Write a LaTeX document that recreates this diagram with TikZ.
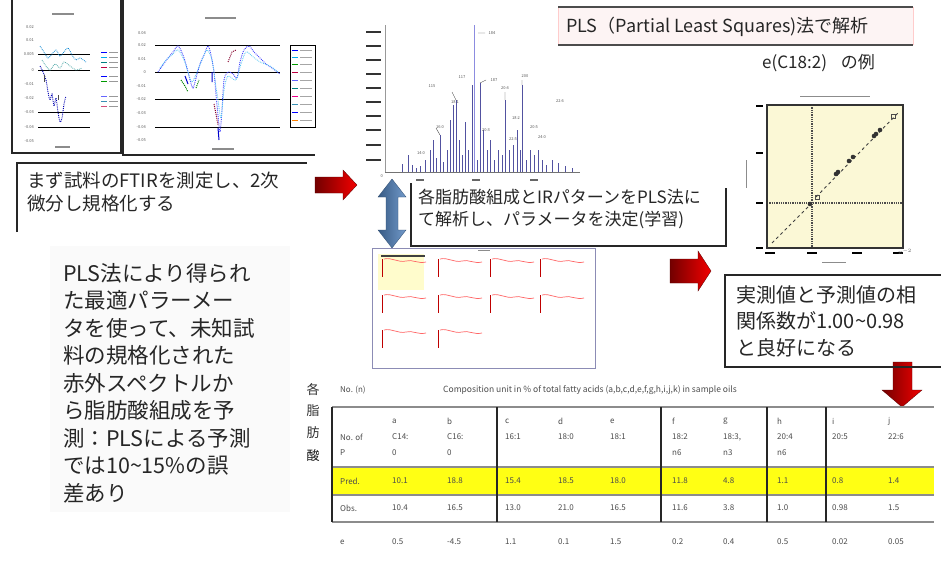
\documentclass[tikz,border=0pt]{standalone}
\usepackage{fontspec}
\setmainfont{Noto Sans CJK JP}
\usetikzlibrary{arrows.meta}
\definecolor{peak}{HTML}{34348F}
\definecolor{lav}{HTML}{8C8CE0}
\definecolor{arrowblue}{HTML}{4F81BD}
\definecolor{yel}{HTML}{FFFF14}
\definecolor{plotbg}{HTML}{FBF8D6}
\definecolor{pinkbg}{HTML}{FDF4F4}
\begin{document}
\begin{tikzpicture}[x=1pt,y=-1pt,
  txt/.style={inner sep=0pt, anchor=west, align=left, text=black!85},
  frameline/.style={line width=1.4pt, black!85},
  boxline/.style={line width=1.2pt, black!85},
  tiny/.style={font=\fontsize{4}{4}\selectfont, text=black!65, inner sep=0pt},
  blur/.style={line width=1.3pt, black!45},
  tabtxt/.style={font=\fontsize{8}{10}\selectfont, text=black!70, inner sep=0pt, anchor=west, align=left},
  redarrow/.style={left color=red!45!black, right color=red!95!black, draw=red!35!black, line width=0.3pt},
  bluearrow/.style={left color=arrowblue!70!black, right color=arrowblue!80, draw=arrowblue!60!black, line width=0.3pt},
]
\useasboundingbox (0,0) rectangle (941,562);
\fill[white] (0,0) rectangle (941,562);

% ---------------- top-left charts ----------------
\draw[frameline] (12,0) -- (12,153) -- (121,153) -- (121,0);
\draw[frameline] (123,0) -- (123,155) -- (315,155);
% left panel
\draw[blur] (52,14) -- (74,14);
\draw[blur] (55,147) -- (70,147);
\foreach \y/\t in {27/0.02,40/0.01,54/0.005,70/0,84/-0.01,98/-0.02,112/-0.03,127/-0.04,141/-0.05}
  \node[tiny, anchor=east] at (34,\y) {\t};
\foreach \y in {54,70,112,127} \draw[line width=1pt] (38,\y) -- (90,\y);
\draw[cyan!70!blue, densely dotted, line width=0.8pt] plot[smooth] coordinates {(40,46) (44,52) (48,58) (52,54) (56,50) (60,56) (64,52) (68,48) (72,55) (76,60) (80,58) (86,62)};
\draw[blue!70!black, densely dotted, line width=0.9pt] plot[smooth] coordinates {(40,66) (43,72) (46,80) (48,92) (50,100) (52,94) (54,106) (56,98) (58,112) (60,122) (62,118) (64,104) (66,96)};
\draw[teal!70, densely dotted, line width=0.8pt] plot[smooth] coordinates {(42,60) (46,66) (50,70) (55,64) (60,68) (64,62) (70,66) (76,70) (82,68)};
\draw[black!70, line width=0.8pt] (44,75) -- (44,82) (58,95) -- (58,100);
\foreach \y/\c in {52/blue,57/cyan,62/teal,67/purple,76/blue,81/green!60!black,96/blue!60,101/cyan!70!black,106/purple!70} {
  \draw[\c, line width=0.7pt] (101,\y) -- (107,\y);
  \draw[black!40, line width=1pt] (109,\y) -- (118,\y);
}
% right panel
\draw[blur] (205,18) -- (236,18);
\draw[blur] (212,149) -- (234,149);
\foreach \y/\t in {33/0.04,45/0.02,59/0.01,72/0,86/-0.01,99/-0.02,113/-0.03,127/-0.04,140/-0.05}
  \node[tiny, anchor=east] at (146,\y) {\t};
\foreach \y in {45,72,99,127} \draw[line width=1pt] (155,\y) -- (280,\y);
\draw[line width=1pt] (290,45) rectangle (315,127);
\foreach \y/\c in {50/blue,57/cyan,64/green!60!black,72/purple,80/blue!60,88/teal,96/magenta,104/cyan!70!black,112/blue,120/orange} {
  \draw[\c, line width=0.6pt] (292,\y) -- (298,\y);
  \draw[black!35, line width=0.9pt] (300,\y) -- (312,\y);
}
\draw[blue!75, densely dotted, line width=0.9pt] plot[smooth] coordinates {(158,72) (163,65) (168,58) (173,52) (178,46) (183,55) (187,68) (190,80) (193,88) (196,78) (200,64) (204,55) (208,46) (211,55) (214,72) (216,95) (218,115) (220,132) (222,110) (224,80) (228,72) (233,74) (237,78) (240,62) (244,50) (249,46) (254,52) (260,58) (266,64) (272,68) (280,74)};
\draw[cyan!70, densely dotted, line width=0.8pt] plot[smooth] coordinates {(160,68) (166,60) (172,55) (178,50) (184,60) (188,72) (192,82) (197,72) (202,60) (207,50) (212,60) (215,80) (218,100) (221,118) (224,90) (228,76) (236,80) (241,64) (246,52) (252,56) (260,62) (270,66) (278,72)};
\draw[green!50!black, densely dotted, line width=1pt] (181,80) -- (185,86) -- (188,92) (196,88) -- (199,80);
\draw[purple!70!black, densely dotted, line width=1pt] (214,104) -- (216,114) -- (218,125) (228,62) -- (232,52) -- (236,50);
\draw[blue!80!black, line width=1pt] (218,128) -- (219,140) (212,72) -- (212,82) (185,76) -- (188,84);

% ---------------- spectrum (middle top) ----------------
\foreach \y in {32,46,60,74,88,102,116,130,145,160} \draw[line width=1.3pt, black!80] (366,\y) -- (381,\y);
\draw[line width=0.6pt, black!40] (385,25) -- (385,172);
\draw[line width=0.8pt, black!55] (385,172) -- (580,172);
\node[tiny, anchor=east] at (383,176) {0};
\foreach \x in {420,476,534} \draw[line width=1.2pt, black!60] (\x-4,180) -- (\x+4,180);
\draw[lav, line width=1pt] (474,172) -- (474,25);
\foreach \x/\h in {402/164,408/155,412/165,416/168,420/166,425/160,430/150,433/140,436/158,440/135,443/162,447/150,450/120,453/105,456/100,459/140,462/155,465/122,468/150,472/85,477/160,480/83,483/130,487/150,490/140,494/160,498/150,502/155,505/100,509/150,513/145,517/130,520/150,522/85,526/160,530/150,534/155,538/150,542/160,546/165,552/160,558/163,565/166,572/168}
  \draw[peak!85, line width=0.7pt] (\x,172) -- (\x,\h);
\draw[black!70, line width=0.4pt] (478,33) -- (485,33) (505,100) -- (505,92) (522,85) -- (522,80) (440,135) -- (436,128) (456,100) -- (452,92) (480,83) -- (486,80);
\node[tiny] at (492,33) {184};
\node[tiny] at (432,86) {115};
\node[tiny] at (462,77) {117};
\node[tiny] at (494,80) {187};
\node[tiny] at (525,76) {200};
\node[tiny] at (505,88) {20:4};
\node[tiny] at (440,127) {16:0};
\node[tiny] at (455,102) {18:1};
\node[tiny] at (516,118) {18:2};
\node[tiny] at (534,127) {20:5};
\node[tiny] at (560,101) {22:6};
\node[tiny] at (542,137) {24:0};
\node[tiny] at (421,153) {14:0};
\node[tiny] at (486,130) {20:3};
\node[tiny] at (513,139) {22:5};

% ---------------- arrows ----------------
\shade[redarrow] (315,177) -- (343,177) -- (343,170) -- (357,185) -- (343,200) -- (343,193) -- (315,193) -- cycle;
\shade[redarrow] (670,259) -- (698,259) -- (698,251) -- (711,271) -- (698,291) -- (698,283) -- (670,283) -- cycle;
\shade[redarrow] (893,362) -- (912,362) -- (912,390) -- (922,390) -- (902,407) -- (882,390) -- (893,390) -- cycle;
\shade[bluearrow] (392,179) -- (406,197) -- (398,197) -- (398,230) -- (406,230) -- (392,248) -- (378,230) -- (386,230) -- (386,197) -- (378,197) -- cycle;

% ---------------- text boxes ----------------
\draw[boxline] (17,232) -- (17,163) -- (307,163);
\node[txt, font=\fontsize{18.5}{23}\selectfont] (t1) at (27,192) {まず試料のFTIRを測定し、2次\\微分し規格化する};

\draw[boxline] (411,183) -- (411,246) -- (726,246) -- (726,188);
\node[txt, font=\fontsize{17}{22}\selectfont] (t2) at (418,209) {各脂肪酸組成とIRパターンをPLS法に\\て解析し、パラメータを決定(学習)};

\fill[pinkbg] (558,7) rectangle (913,45);
\draw[red!20, line width=0.6pt] (558,7) -- (558,45) (913,7) -- (913,45);
\draw[boxline, black!70] (558,7) -- (913,7) (558,45) -- (913,45);
\node[txt, font=\fontsize{18}{20}\selectfont] (t3) at (566,27) {PLS（Partial Least Squares)法で解析};
\node[txt, font=\fontsize{17}{20}\selectfont] (t4) at (762,63) {e(C18:2)\hspace{14pt}の例};

\draw[boxline] (941,275) -- (725,275) -- (725,367) -- (941,367);
\node[txt, font=\fontsize{20}{26.5}\selectfont] (t5) at (736,321) {実測値と予測値の相\\関係数が1.00\textasciitilde 0.98\\と良好になる};

\fill[black!2] (50,246) rectangle (290,512);
\node[txt, anchor=north west, font=\fontsize{21.5}{27.5}\selectfont] (t6) at (63,263) {PLS法により得られ\\た最適パラーメー\\タを使って、未知試\\料の規格化された\\赤外スペクトルか\\ら脂肪酸組成を予\\測：PLSによる予測\\では10\textasciitilde 15\%の誤\\差あり};

% ---------------- scatter plot ----------------
\fill[plotbg] (767,105) rectangle (903,248);
\draw[black!70, densely dotted, line width=1.3pt] (812,105) -- (812,248) (767,203) -- (903,203);
\draw[black!80, line width=1.4pt] (767,105) rectangle (903,248);
\draw[black!75, dashed, line width=0.9pt] (772,243) -- (808,207) (816,197) -- (898,113);
\foreach \p in {(880,130),(876,134),(874,136),(853,157),(849,161),(838,172),(836,174),(810,204)}
  \fill[black!80] \p circle (2.3pt);
\draw[black!70, line width=0.7pt] (891,114) rectangle (895,118) (815,195) rectangle (819,199);
\foreach \x in {770,812,857,898} \draw[line width=1.5pt] (\x-5,253) -- (\x+5,253);
\foreach \y in {106,153,203,248} \draw[line width=1.5pt] (756,\y) -- (763,\y);
\draw[blur, line width=1pt] (800,96) -- (870,96);
\draw[blur, line width=1pt] (822,262) -- (846,262);
\draw[blur, line width=1pt] (746,160) -- (746,188);
\node[tiny] at (905,252) {10$^{-2}$};

% ---------------- spectra grid ----------------
\draw[blue!35!black!45, line width=1pt] (372,248) rectangle (595,368);
\fill[yellow!20] (378,254) rectangle (424,290);
\draw[black!75, line width=1.5pt] (381,256) -- (425,256);
\draw[blur, line width=0.8pt] (478,250) -- (490,250);
\foreach \x/\y in {382/264,438/264,490/264,540/264,382/300,438/300,490/300,540/300,382/335,438/335} {
  \draw[red!75!black, line width=0.8pt] (\x,\y-5) -- (\x,\y+13);
  \draw[red!60, line width=0.7pt] (\x+2,\y-5) .. controls (\x+10,\y-7) and (\x+16,\y-1) .. (\x+24,\y-3) .. controls (\x+30,\y-5) and (\x+36,\y) .. (\x+44,\y-2);
}

% ---------------- table ----------------
\node[font=\fontsize{13}{13}\selectfont, inner sep=0pt, text=black!80] (v1) at (313,390) {各};
\node[font=\fontsize{13}{13}\selectfont, inner sep=0pt, text=black!80] (v2) at (313,411) {脂};
\node[font=\fontsize{13}{13}\selectfont, inner sep=0pt, text=black!80] (v3) at (313,433) {肪};
\node[font=\fontsize{13}{13}\selectfont, inner sep=0pt, text=black!90] (v4) at (313,456) {酸};

\node[tabtxt] (h0) at (340,390) {No. (n)};
\node[tabtxt, font=\fontsize{8.5}{10}\selectfont] (h1) at (443,390) {Composition unit in \% of total fatty acids (a,b,c,d,e,f,g,h,i,j,k) in sample oils};

\fill[yel] (332,467) rectangle (934,495);
\draw[black!45, line width=1.6pt] (332,407) -- (934,407);
\draw[black!45, line width=1.3pt] (332,467) -- (934,467) (332,495) -- (934,495) (332,522) -- (934,522);
\draw[black!85, line width=1.3pt] (332,407) -- (332,522);
\foreach \x in {497,661,767,826} \draw[black!85, line width=1.5pt] (\x,407) -- (\x,522);

\foreach \x/\a/\b/\c in {340//No. of/P, 392/a/C14:/0, 447/b/C16:/0, 505/c/16:1/, 558/d/18:0/, 610/e/18:1/, 672/f/18:2/n6, 723/g/{18:3,}/n3, 777/h/20:4/n6, 832/i/20:5/, 888/j/22:6/} {
  \node[tabtxt] at (\x,421) {\a};
  \node[tabtxt] at (\x,437) {\b};
  \node[tabtxt] at (\x,453) {\c};
}
\foreach \x/\a/\b/\c in {340/Pred./Obs./e, 392/10.1/10.4/0.5, 447/18.8/16.5/-4.5, 505/15.4/13.0/1.1, 558/18.5/21.0/0.1, 610/18.0/16.5/1.5, 672/11.8/11.6/0.2, 723/4.8/3.8/0.4, 777/1.1/1.0/0.5, 832/0.8/0.98/0.02, 888/1.4/1.5/0.05} {
  \node[tabtxt] at (\x,481) {\a};
  \node[tabtxt] at (\x,508) {\b};
  \node[tabtxt] at (\x,542) {\c};
}
\end{tikzpicture}
\end{document}
